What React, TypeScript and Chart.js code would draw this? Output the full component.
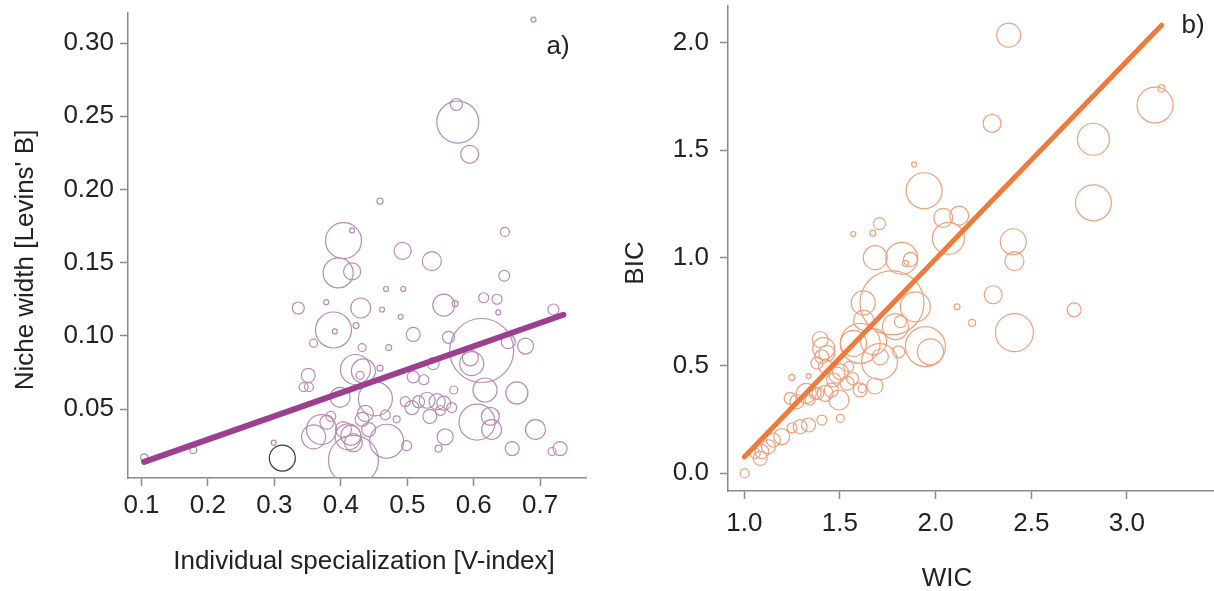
import React, { useEffect, useRef } from "react";
import { Chart, registerables } from "chart.js";

Chart.register(...registerables);

const FONT = "'Liberation Sans', Arial, Helvetica, sans-serif";

// ---------- Panel a: Niche width vs Individual specialization ----------
const aX = [0.690, 0.576, 0.574, 0.594, 0.459, 0.404, 0.417, 0.647, 0.396, 0.417, 0.493, 0.537, 0.646, 0.468, 0.494, 0.336, 0.378, 0.430, 0.423, 0.462, 0.490, 0.389, 0.391, 0.509, 0.555, 0.572, 0.615, 0.635, 0.637, 0.720, 0.359, 0.432, 0.472, 0.562, 0.612, 0.595, 0.597, 0.652, 0.678, 0.539, 0.422, 0.434, 0.429, 0.459, 0.351, 0.344, 0.352, 0.452, 0.399, 0.509, 0.525, 0.497, 0.507, 0.517, 0.665, 0.617, 0.570, 0.530, 0.545, 0.555, 0.550, 0.567, 0.534, 0.605, 0.625, 0.627, 0.693, 0.557, 0.547, 0.658, 0.718, 0.730, 0.432, 0.371, 0.359, 0.379, 0.411, 0.415, 0.404, 0.419, 0.442, 0.469, 0.419, 0.437, 0.484, 0.499, 0.467, 0.299, 0.104, 0.178, 0.385];
const aY = [0.316, 0.246, 0.258, 0.224, 0.192, 0.165, 0.172, 0.171, 0.143, 0.144, 0.158, 0.151, 0.141, 0.132, 0.132, 0.119, 0.123, 0.119, 0.107, 0.118, 0.113, 0.104, 0.103, 0.101, 0.121, 0.122, 0.126, 0.125, 0.116, 0.118, 0.095, 0.092, 0.092, 0.099, 0.090, 0.085, 0.081, 0.096, 0.093, 0.081, 0.077, 0.076, 0.073, 0.078, 0.073, 0.065, 0.065, 0.057, 0.058, 0.072, 0.070, 0.055, 0.051, 0.055, 0.061, 0.063, 0.063, 0.056, 0.055, 0.054, 0.049, 0.051, 0.045, 0.041, 0.045, 0.036, 0.036, 0.031, 0.023, 0.023, 0.021, 0.023, 0.043, 0.036, 0.031, 0.041, 0.031, 0.032, 0.036, 0.027, 0.036, 0.028, 0.015, 0.047, 0.043, 0.025, 0.046, 0.027, 0.017, 0.022, 0.045];
const aR = [2.5, 21, 6, 9, 3, 18, 2.5, 4.5, 15, 8.5, 8.5, 9.5, 5.5, 2.5, 2.5, 6, 2.5, 10, 3, 2.5, 2.5, 18, 2.5, 7, 11, 3, 5, 5, 2.5, 5.5, 4, 4, 3, 6, 32, 8, 12, 7, 8, 6, 15, 12, 4, 3, 7, 4.5, 4.5, 17, 10, 6, 5, 5, 7, 6, 11, 12, 4, 8, 8, 7, 5, 5, 7, 18, 9, 10, 10, 8, 3.5, 7, 4, 7, 7, 15, 12, 7, 13, 10, 8, 9, 7, 17, 25, 8, 3.5, 5, 5, 2.5, 3.5, 3.5, 5];
const aDarkX = [0.312];
const aDarkY = [0.0165];
const aDarkR = [13];
const aLineX = [0.104, 0.735];
const aLineY = [0.0139, 0.1144];
const aXTicks = [0.1, 0.2, 0.3, 0.4, 0.5, 0.6, 0.7];
const aYTicks = [0.05, 0.10, 0.15, 0.20, 0.25, 0.30];

// ---------- Panel b: BIC vs WIC ----------
const bX = [2.382, 3.181, 3.147, 2.295, 2.825, 1.888, 1.940, 2.825, 2.040, 2.123, 2.067, 1.707, 1.672, 1.570, 2.406, 2.412, 1.685, 1.823, 1.868, 1.842, 1.772, 1.894, 1.622, 1.816, 1.790, 1.947, 1.973, 1.807, 2.112, 2.191, 2.301, 2.412, 2.724, 1.676, 1.711, 1.606, 1.707, 1.571, 1.624, 1.415, 1.405, 1.397, 1.432, 1.380, 1.425, 1.485, 1.502, 1.467, 1.537, 1.606, 1.566, 1.546, 1.683, 1.616, 1.423, 1.371, 1.495, 1.455, 1.385, 1.344, 1.324, 1.275, 1.240, 1.502, 1.406, 1.336, 1.292, 1.250, 1.196, 1.152, 1.126, 1.092, 1.083, 1.057, 1.249, 1.336, 1.002];
const bY = [2.034, 1.786, 1.709, 1.624, 1.550, 1.433, 1.311, 1.255, 1.185, 1.195, 1.090, 1.158, 1.114, 1.110, 1.074, 0.984, 1.000, 0.997, 0.992, 0.974, 0.790, 0.772, 0.790, 0.703, 0.680, 0.587, 0.563, 0.563, 0.772, 0.697, 0.828, 0.652, 0.758, 0.610, 0.540, 0.602, 0.517, 0.602, 0.710, 0.579, 0.540, 0.620, 0.556, 0.510, 0.494, 0.455, 0.470, 0.432, 0.417, 0.386, 0.439, 0.494, 0.404, 0.393, 0.370, 0.370, 0.339, 0.385, 0.370, 0.339, 0.370, 0.331, 0.347, 0.254, 0.246, 0.223, 0.215, 0.210, 0.169, 0.153, 0.122, 0.099, 0.068, 0.091, 0.444, 0.450, -0.002];
const bR = [12, 3.5, 18, 9, 16, 2.5, 18, 18, 9.5, 9.5, 16, 6, 3, 2.5, 13, 9.5, 12, 16, 7, 3, 32, 15, 12, 6, 13, 20, 13, 6, 3, 3.5, 9, 19, 7, 13, 8, 20, 18, 13, 10, 11, 7, 8, 8, 6, 7, 8, 8, 7, 7, 7, 6, 5, 8, 4, 8, 6, 10, 7, 6, 5, 10, 7, 6, 4, 5, 7, 7, 5, 8, 7, 7, 7, 7, 5, 3, 2.5, 4.5];
const bLineX = [1.0, 3.181];
const bLineY = [0.0745, 2.08];
const bXTicks = [1.0, 1.5, 2.0, 2.5, 3.0];
const bYTicks = [0.0, 0.5, 1.0, 1.5, 2.0];

const AXIS = "#8a8a8a";
const TEXT = "#222222";

const pts = (xs: number[], ys: number[], rs?: number[]) =>
  xs.map((x, i) => (rs ? { x, y: ys[i], r: rs[i] } : { x, y: ys[i] }));

const annotPlugin = {
  id: "annot",
  afterDraw(chart: any, _a: any, opts: any) {
    const ctx = chart.ctx;
    (opts.items || []).forEach((it: any) => {
      ctx.save();
      ctx.font = `${it.size}px ${FONT}`;
      ctx.fillStyle = TEXT;
      ctx.textAlign = "center";
      ctx.textBaseline = "middle";
      ctx.translate(it.x, it.y);
      if (it.rotate) ctx.rotate(it.rotate);
      ctx.fillText(it.text, 0, 0);
      ctx.restore();
    });
  },
};

function axis(min: number, max: number, ticks: number[], dec: number, size: number, isX: boolean, pad: number) {
  return {
    type: "linear",
    min,
    max,
    grid: { display: true, drawOnChartArea: false, drawTicks: true, tickLength: 8, tickColor: AXIS, tickWidth: 1.5 },
    border: { display: true, color: AXIS, width: 1.5 },
    ticks: {
      color: TEXT,
      font: { family: FONT, size: 26 },
      padding: pad,
      autoSkip: false,
      maxRotation: 0,
      callback: (v: any) => Number(v).toFixed(dec),
    },
    afterBuildTicks: (s: any) => {
      s.ticks = ticks.map((v) => ({ value: v }));
    },
    afterFit: (s: any) => {
      if (isX) s.height = size;
      else s.width = size;
      s.paddingTop = 0;
      s.paddingBottom = 0;
      s.paddingLeft = 0;
      s.paddingRight = 0;
    },
  };
}

function panelA(canvas: HTMLCanvasElement) {
  return new Chart(canvas, {
    type: "bubble",
    data: {
      datasets: [
        {
          type: "line",
          data: pts(aLineX, aLineY),
          borderColor: "#9c3f8e",
          borderWidth: 6,
          borderCapStyle: "round",
          pointRadius: 0,
          fill: false,
        } as any,
        {
          data: pts(aDarkX, aDarkY, aDarkR),
          borderColor: "#3a3a3a",
          backgroundColor: "rgba(0,0,0,0)",
          borderWidth: 1.2,
        },
        {
          data: pts(aX, aY, aR),
          borderColor: "#b98ab6",
          backgroundColor: "rgba(0,0,0,0)",
          borderWidth: 1.2,
        },
      ],
    },
    options: {
      responsive: false,
      animation: false,
      devicePixelRatio: 1,
      layout: { autoPadding: false, padding: { left: 0, top: 13, right: 21, bottom: 0 } },
      plugins: {
        legend: { display: false },
        tooltip: { enabled: false },
        annot: {
          items: [
            { text: "Niche width [Levins' B]", x: 26, y: 260, size: 26, rotate: -Math.PI / 2 },
            { text: "Individual specialization [V-index]", x: 364, y: 562, size: 26 },
            { text: "a)", x: 558, y: 47, size: 26 },
          ],
        },
      } as any,
      scales: {
        x: axis(0.0797, 0.769, aXTicks, 1, 113, true, 4) as any,
        y: axis(0.0029, 0.3205, aYTicks, 2, 128, false, 6) as any,
      },
    },
    plugins: [annotPlugin],
  });
}

function panelB(canvas: HTMLCanvasElement) {
  return new Chart(canvas, {
    type: "bubble",
    data: {
      datasets: [
        {
          type: "line",
          data: pts(bLineX, bLineY),
          borderColor: "#ee7a3c",
          borderWidth: 5,
          borderCapStyle: "round",
          pointRadius: 0,
          fill: false,
        } as any,
        {
          data: pts(bX, bY, bR),
          borderColor: "#f0a07c",
          backgroundColor: "rgba(0,0,0,0)",
          borderWidth: 1.2,
        },
      ],
    },
    options: {
      responsive: false,
      animation: false,
      devicePixelRatio: 1,
      layout: { autoPadding: false, padding: { left: 0, top: 6, right: 0, bottom: 0 } },
      plugins: {
        legend: { display: false },
        tooltip: { enabled: false },
        annot: {
          items: [
            { text: "BIC", x: 29, y: 263, size: 26, rotate: -Math.PI / 2 },
            { text: "WIC", x: 340, y: 579, size: 26 },
            { text: "b)", x: 586, y: 26, size: 26 },
          ],
        },
      } as any,
      scales: {
        x: axis(0.915, 3.455, bXTicks, 1, 100, true, 9) as any,
        y: axis(-0.0836, 2.169, bYTicks, 1, 121, false, 11) as any,
      },
    },
    plugins: [annotPlugin],
  });
}

export default function App() {
  const refA = useRef<HTMLCanvasElement>(null);
  const refB = useRef<HTMLCanvasElement>(null);
  useEffect(() => {
    const ca = panelA(refA.current!);
    const cb = panelB(refB.current!);
    return () => {
      ca.destroy();
      cb.destroy();
    };
  }, []);
  return (
    <div style={{ position: "fixed", left: 0, top: 0, width: 1214, height: 591, background: "#fff", overflow: "hidden" }}>
      <canvas ref={refA} width={607} height={591} style={{ position: "absolute", left: 0, top: 0, width: 607, height: 591 }} />
      <canvas ref={refB} width={607} height={591} style={{ position: "absolute", left: 607, top: 0, width: 607, height: 591 }} />
    </div>
  );
}
